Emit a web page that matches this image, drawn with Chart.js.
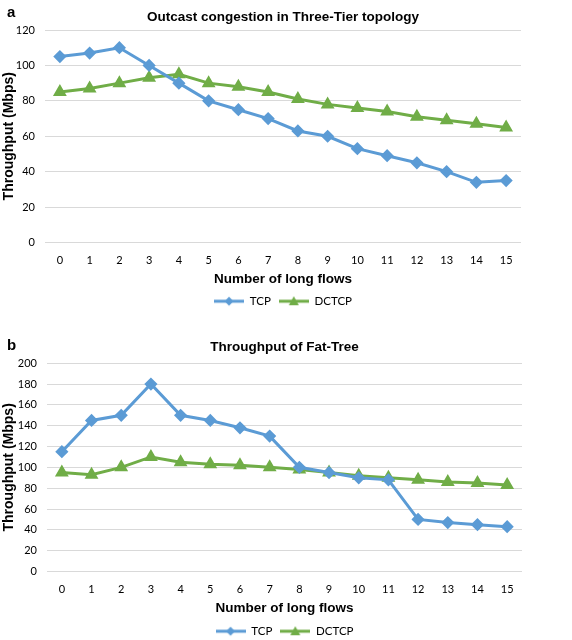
<!DOCTYPE html>
<html>
<head>
<meta charset="utf-8">
<script src="https://cdn.jsdelivr.net/npm/chart.js@4.4.1/dist/chart.umd.min.js"></script>
<style>
  body { margin: 0; background: #fff; overflow: hidden; }
  .panel { position: absolute; left: 0; width: 572px; height: 320px; }
  .tag { position: absolute; left: 7px; font: bold 15px "Liberation Sans", Arial, sans-serif; color: #000; }
</style>
</head>
<body>
<div class="panel" style="top:0"><canvas id="chartA" width="572" height="320"></canvas></div>
<div class="panel" style="top:320px"><canvas id="chartB" width="572" height="320"></canvas></div>
<div class="tag" style="top:3px">a</div>
<div class="tag" style="top:336px">b</div>
<script>
const flows = ["0", "1", "2", "3", "4", "5", "6", "7", "8", "9", "10", "11", "12", "13", "14", "15"];

// panel a - three-tier
const tcpThreeTier = [105, 107, 110, 100, 90, 80, 75, 70, 63, 60, 53, 49, 45, 40, 34, 35];
const dctcpThreeTier = [85, 87, 90, 93, 95, 90, 88, 85, 81, 78, 76, 74, 71, 69, 67, 65];

// panel b - fat-tree
const tcpFatTree = [115, 145, 150, 180, 150, 145, 138, 130, 100, 95, 90, 88, 50, 47, 45, 43];
const dctcpFatTree = [95, 93, 100, 110, 105, 103, 102, 100, 98, 95, 92, 90, 88, 86, 85, 83];

const blue = "#5B9BD5";
const green = "#70AD47";
const tickFont = { family: "Lato, 'Open Sans', sans-serif", size: 11 };
const boldFont = "'Liberation Sans', Arial, sans-serif";

// little line + marker image for the legend
function legendIcon(color, shape) {
  const c = document.createElement("canvas");
  c.width = 30;
  c.height = 12;
  const ctx = c.getContext("2d");
  ctx.strokeStyle = color;
  ctx.fillStyle = color;
  ctx.lineWidth = 3;
  ctx.beginPath();
  ctx.moveTo(0, 6);
  ctx.lineTo(30, 6);
  ctx.stroke();
  ctx.beginPath();
  if (shape === "diamond") {
    ctx.moveTo(15, 1.5);
    ctx.lineTo(19.5, 6);
    ctx.lineTo(15, 10.5);
    ctx.lineTo(10.5, 6);
  } else {
    ctx.moveTo(15, 1);
    ctx.lineTo(20, 10);
    ctx.lineTo(10, 10);
  }
  ctx.closePath();
  ctx.fill();
  return c;
}

// centre title + legend over the plot area, like excel does
const centerOnPlot = {
  id: "centerOnPlot",
  afterLayout(chart) {
    const area = chart.chartArea;
    [chart.titleBlock, chart.legend].forEach((b) => {
      if (!b) return;
      b.left = area.left;
      b.right = area.right;
      b.width = area.right - area.left;
    });
  },
};

function makeChart(id, title, tcp, dctcp, yMax, o) {
  const ctx = document.getElementById(id).getContext("2d");
  return new Chart(ctx, {
    type: "line",
    data: {
      labels: flows,
      datasets: [
        {
          label: "TCP",
          data: tcp,
          borderColor: blue,
          backgroundColor: blue,
          borderWidth: 3,
          pointStyle: "rectRot",
          pointRadius: 4.5,
          pointHoverRadius: 4.5,
          tension: 0,
        },
        {
          label: "DCTCP",
          data: dctcp,
          borderColor: green,
          backgroundColor: green,
          borderWidth: 3,
          pointStyle: "triangle",
          pointRadius: 5,
          pointHoverRadius: 5,
          tension: 0,
        },
      ],
    },
    plugins: [centerOnPlot],
    options: {
      responsive: false,
      animation: false,
      layout: { padding: { left: 0, right: o.right, top: 0, bottom: o.bottom } },
      plugins: {
        title: {
          display: true,
          text: title,
          color: "#000",
          font: { family: boldFont, size: 13.5, weight: "bold" },
          padding: { top: o.titleTop, bottom: o.titleBottom },
        },
        legend: {
          position: "bottom",
          labels: {
            usePointStyle: true,
            pointStyleWidth: 30,
            color: "#000",
            font: { family: tickFont.family, size: 11.5 },
            padding: 8,
            generateLabels: (chart) =>
              chart.data.datasets.map((ds, i) => ({
                text: ds.label,
                datasetIndex: i,
                pointStyle: legendIcon(ds.borderColor, i === 0 ? "diamond" : "triangle"),
                fontColor: "#000",
                lineWidth: 0,
                strokeStyle: "transparent",
                fillStyle: ds.borderColor,
              })),
          },
        },
        tooltip: { enabled: false },
      },
      scales: {
        x: {
          offset: true,
          afterFit: (scale) => {
            scale.height = o.xHeight;
          },
          grid: { display: false, drawTicks: false },
          border: { display: false },
          ticks: { color: "#000", font: tickFont, padding: 11, maxRotation: 0 },
          title: {
            display: true,
            text: "Number of long flows",
            color: "#000",
            font: { family: boldFont, size: 13.5, weight: "bold" },
            padding: { top: 0, bottom: o.xTitleBottom },
          },
        },
        y: {
          min: 0,
          max: yMax,
          afterFit: (scale) => {
            scale.width = o.yWidth;
          },
          grid: { color: "#d9d9d9", lineWidth: 1, drawTicks: false },
          border: { display: false },
          ticks: { stepSize: 20, color: "#000", font: tickFont, padding: 10 },
          title: {
            display: true,
            text: "Throughput (Mbps)",
            color: "#000",
            font: { family: boldFont, size: 14, weight: "bold" },
            padding: { top: 1, bottom: 0 },
          },
        },
      },
    },
  });
}

makeChart("chartA", "Outcast congestion in Three-Tier topology", tcpThreeTier, dctcpThreeTier, 120,
  { right: 51, bottom: 3, titleTop: 9, titleBottom: 4.8, yWidth: 45, xHeight: 45, xTitleBottom: 0 });
makeChart("chartB", "Throughput of Fat-Tree", tcpFatTree, dctcpFatTree, 200,
  { right: 50, bottom: -7, titleTop: 19, titleBottom: 8, yWidth: 47, xHeight: 46, xTitleBottom: 1 });
</script>
</body>
</html>
